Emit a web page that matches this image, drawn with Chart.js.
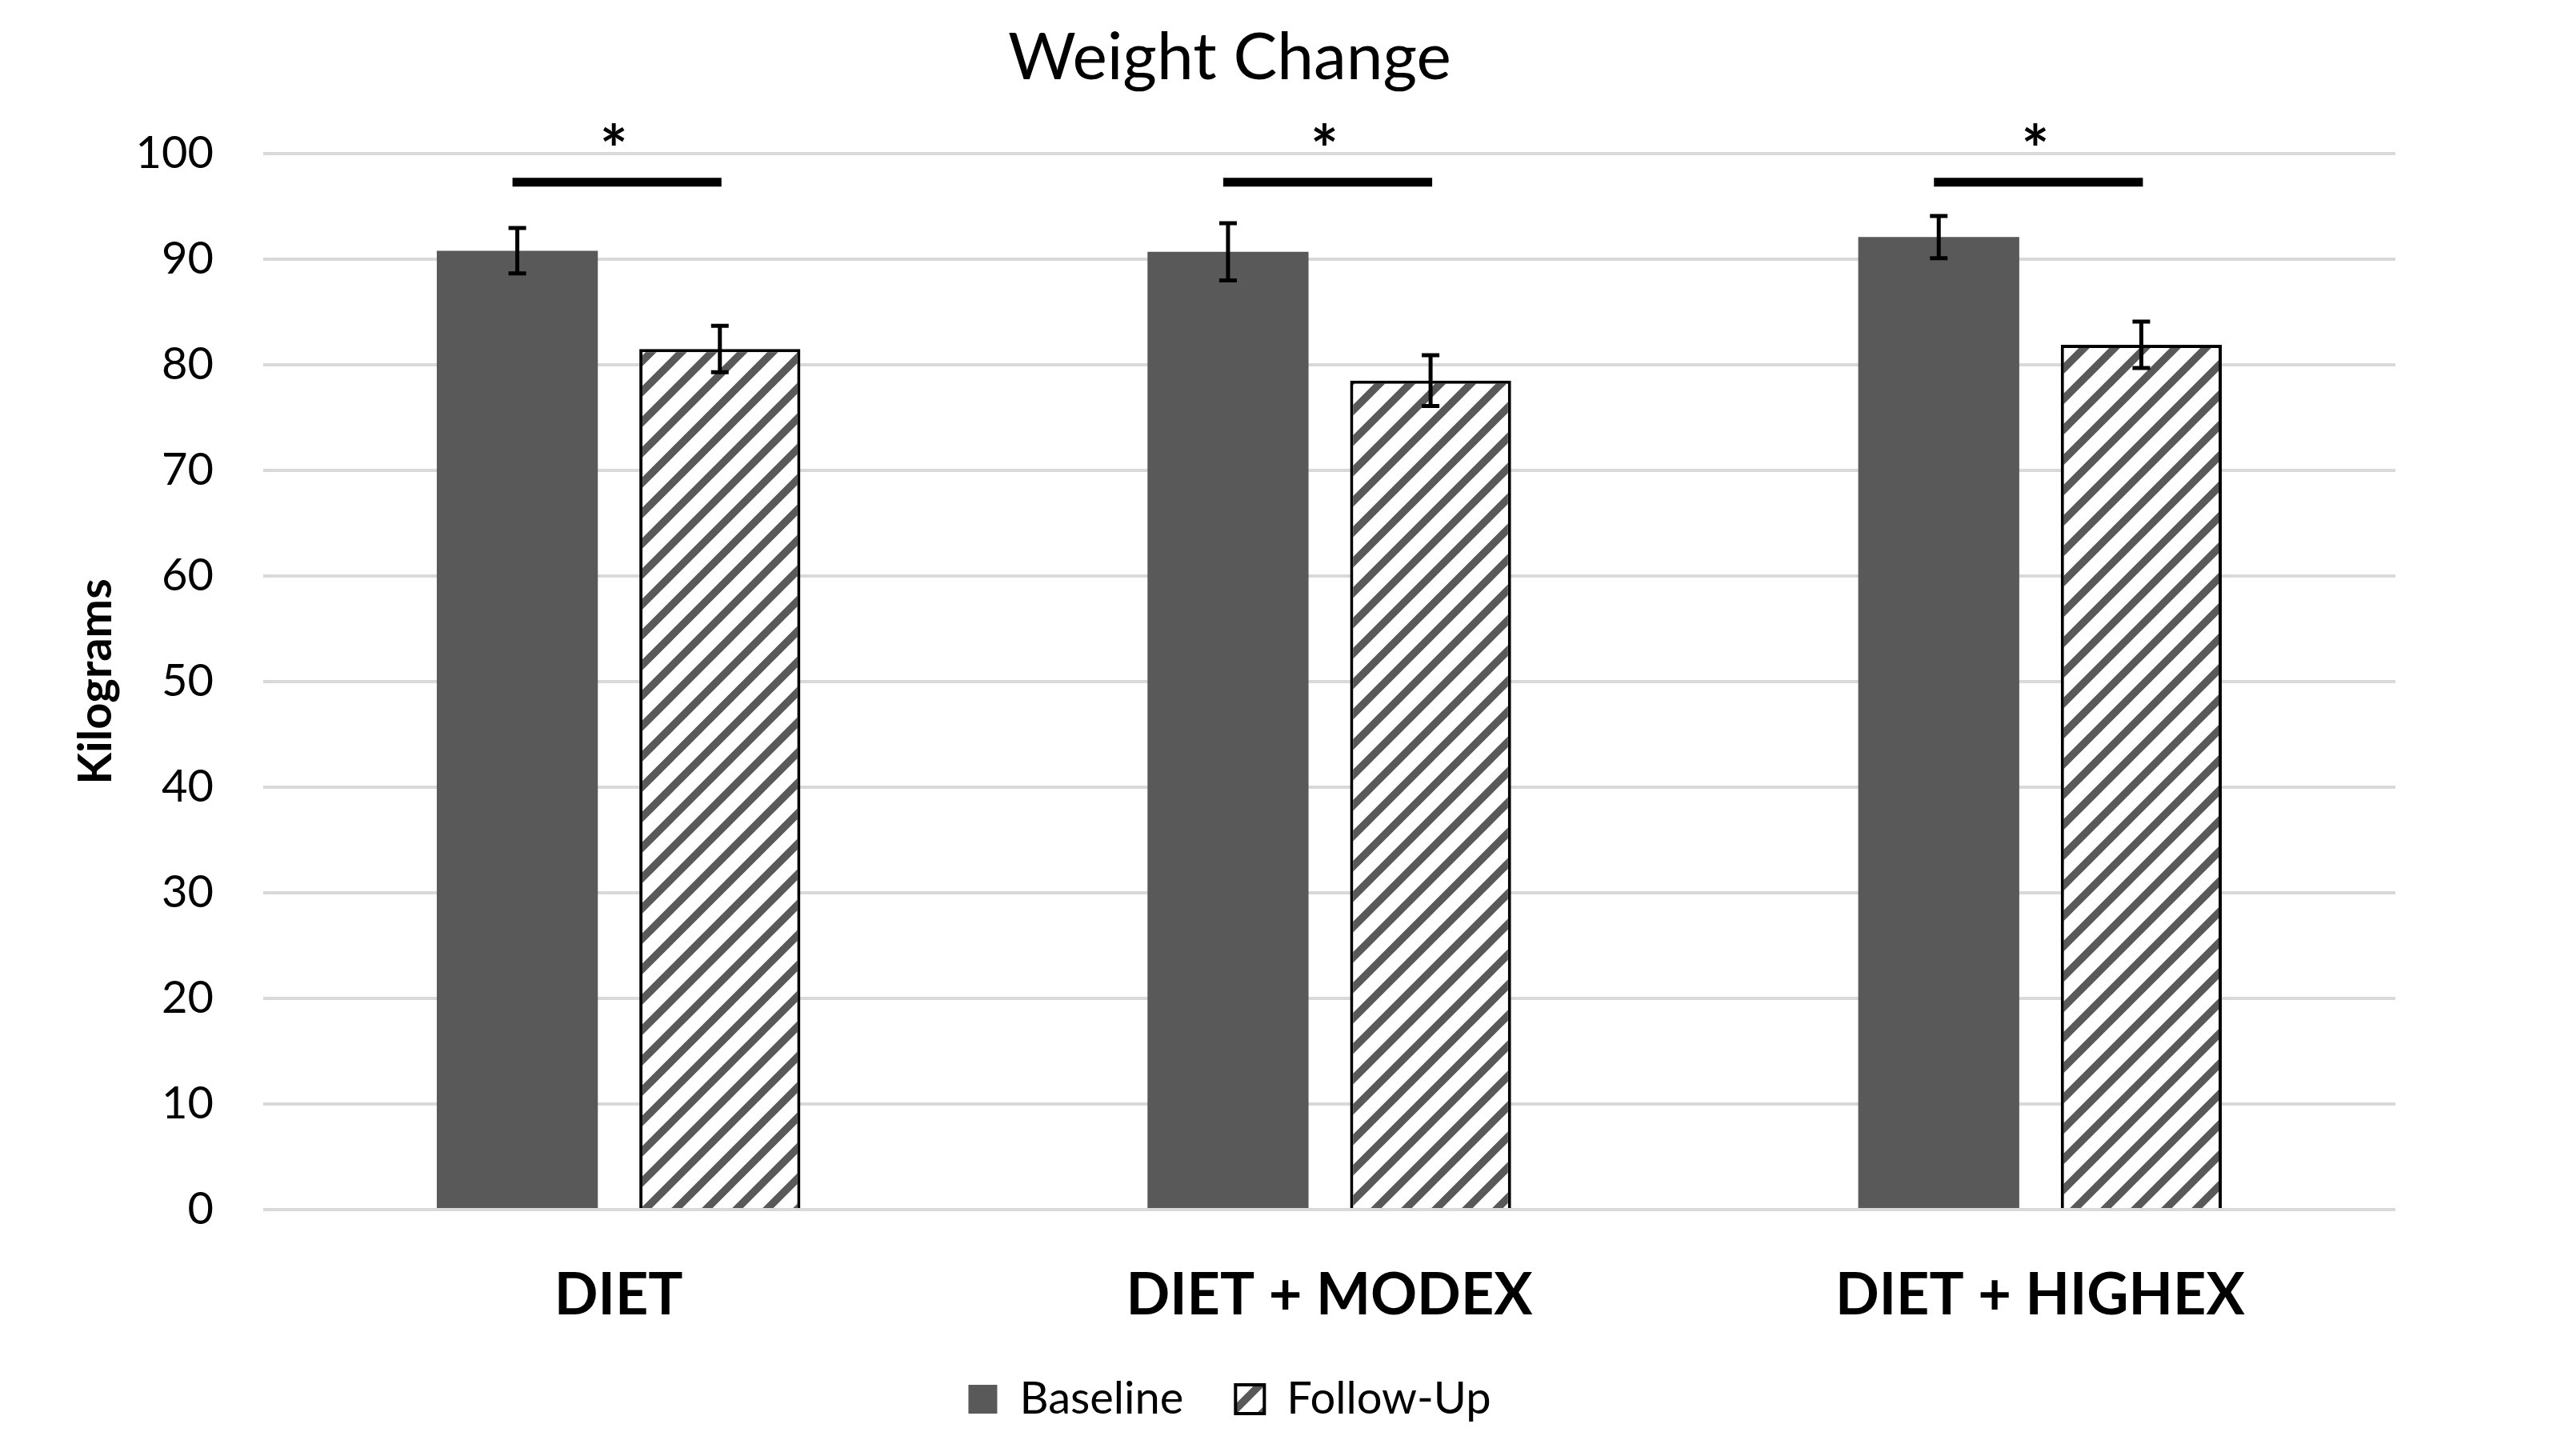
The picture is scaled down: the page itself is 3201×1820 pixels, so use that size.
<!DOCTYPE html>
<html>
<head>
<meta charset="utf-8">
<script src="https://cdn.jsdelivr.net/npm/chart.js@4.4.1/dist/chart.umd.min.js"></script>
<style>
  html, body { margin: 0; padding: 0; background: #ffffff; }
  canvas { display: block; }
</style>
</head>
<body>
<canvas id="c" width="3201" height="1820"></canvas>
<script>
// ---- data ----
const categories = ['DIET', 'DIET + MODEX', 'DIET + HIGHEX'];
const seriesNames = ['Baseline', 'Follow-Up'];
const baseline = [90.8, 90.7, 92.1];
const followUp = [81.5, 78.5, 81.9];
const baselineErr = [2.15, 2.7, 2.0];
const followUpErr = [2.2, 2.4, 2.2];
const sigLevel = [97.3, 97.3, 97.3];
const sigMark = ['*', '*', '*'];
const yMin = 0, yMax = 100, yStep = 10;

const DARK = '#595959';
const GRID = '#d9d9d9';

function makeHatch() {
  const T = 38;
  const c = document.createElement('canvas');
  c.width = T; c.height = T;
  const g = c.getContext('2d');
  g.fillStyle = '#ffffff';
  g.fillRect(0, 0, T, T);
  g.strokeStyle = DARK;
  g.lineWidth = 9.5;
  for (const k of [0, T, 2 * T]) {
    g.beginPath();
    g.moveTo(-T, k + T);
    g.lineTo(k + T, -T);
    g.stroke();
  }
  return g.createPattern(c, 'repeat');
}

const errorBarPlugin = {
  id: 'errorBars',
  afterDatasetsDraw(chart) {
    const ctx = chart.ctx;
    const y = chart.scales.y;
    ctx.save();
    ctx.strokeStyle = '#000';
    ctx.lineWidth = 5;
    ctx.lineCap = 'butt';
    chart.data.datasets.forEach((ds, di) => {
      const meta = chart.getDatasetMeta(di);
      meta.data.forEach((el, i) => {
        const v = ds.data[i], e = ds.errors[i];
        const x = el.x;
        const yt = y.getPixelForValue(v + e);
        const yb = y.getPixelForValue(v - e);
        const cw = 11;
        ctx.beginPath();
        ctx.moveTo(x, yt); ctx.lineTo(x, yb);
        ctx.moveTo(x - cw, yt); ctx.lineTo(x + cw, yt);
        ctx.moveTo(x - cw, yb); ctx.lineTo(x + cw, yb);
        ctx.stroke();
      });
    });
    ctx.restore();
  }
};

const STAR_SIZE = 82;
const sigPlugin = {
  id: 'sigBars',
  afterDraw(chart) {
    const ctx = chart.ctx;
    const y = chart.scales.y;
    const m0 = chart.getDatasetMeta(0), m1 = chart.getDatasetMeta(1);
    ctx.save();
    categories.forEach((cat, i) => {
      const x1 = m0.data[i].x - 6;
      const x2 = m1.data[i].x + 2;
      const yy = y.getPixelForValue(sigLevel[i]);
      ctx.strokeStyle = '#000';
      ctx.lineWidth = 11;
      ctx.lineCap = 'butt';
      ctx.beginPath();
      ctx.moveTo(x1, yy); ctx.lineTo(x2, yy);
      ctx.stroke();
      ctx.font = 'bold ' + STAR_SIZE + 'px Lato';
      ctx.fillStyle = '#000';
      ctx.textAlign = 'center';
      ctx.textBaseline = 'alphabetic';
      ctx.fillText(sigMark[i], (x1 + x2) / 2 - 4, yy - 57 + 0.57 * STAR_SIZE);
    });
    ctx.restore();
  }
};

function build() {
  Chart.defaults.font.family = 'Lato';
  Chart.defaults.color = '#000';
  const hatch = makeHatch();
  new Chart(document.getElementById('c'), {
    type: 'bar',
    data: {
      labels: categories,
      datasets: [
        {
          label: seriesNames[0],
          data: baseline,
          errors: baselineErr,
          backgroundColor: DARK,
          borderWidth: 0,
          categoryPercentage: 0.57,
          barPercentage: 0.795
        },
        {
          label: seriesNames[1],
          data: followUp,
          errors: followUpErr,
          backgroundColor: hatch,
          borderColor: '#000',
          borderWidth: 4,
          categoryPercentage: 0.57,
          barPercentage: 0.795
        }
      ]
    },
    options: {
      responsive: false,
      devicePixelRatio: 1,
      animation: false,
      layout: { padding: { top: 0, left: 80, right: 207, bottom: 33 } },
      plugins: {
        title: {
          display: true,
          text: 'Weight Change',
          color: '#000',
          font: { size: 82, weight: 'normal' },
          padding: { top: 23, bottom: 70.6 }
        },
        legend: {
          display: true,
          position: 'bottom',
          labels: {
            boxWidth: 36,
            boxHeight: 36,
            padding: 65,
            color: '#000',
            font: { size: 56 }
          }
        },
        tooltip: { enabled: false }
      },
      scales: {
        x: {
          grid: { display: false },
          border: { display: false },
          ticks: {
            color: '#000',
            font: { size: 72, weight: 'bold' },
            padding: 57,
            maxRotation: 0
          },
          afterFit(s) { s.height = 144; }
        },
        y: {
          min: yMin,
          max: yMax,
          grid: { color: GRID, lineWidth: 4, drawTicks: false },
          border: { display: false },
          ticks: {
            stepSize: yStep,
            color: '#000',
            font: { size: 56 },
            padding: 62
          },
          title: {
            display: true,
            text: 'Kilograms',
            color: '#000',
            font: { size: 58, weight: 'bold' },
            padding: { top: 5, bottom: 0 }
          },
          afterFit(s) { s.width = 249; }
        }
      }
    },
    plugins: [errorBarPlugin, sigPlugin]
  });
}

if (document.fonts && document.fonts.load) {
  Promise.all([
    document.fonts.load('56px Lato'),
    document.fonts.load('bold 56px Lato')
  ]).then(build, build);
} else {
  build();
}
</script>
</body>
</html>
